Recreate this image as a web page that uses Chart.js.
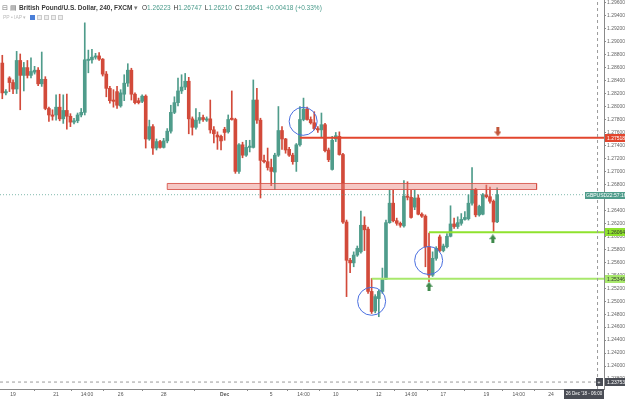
<!DOCTYPE html>
<html>
<head>
<meta charset="utf-8">
<script src="https://cdn.jsdelivr.net/npm/chart.js@4.4.1/dist/chart.umd.min.js"></script>
<style>
  html, body { margin: 0; padding: 0; background: #fff; }
  #wrap { position: relative; width: 625px; height: 399px; overflow: hidden; }
  #chart { position: absolute; left: 0; top: 0; }
  .hdr { position: absolute; left: 2px; top: 4px; font: 6.5px "Liberation Sans", Arial, sans-serif; color: #333; white-space: nowrap; }
  .hdr b { font-weight: bold; color: #3a3a3a; }
  .hdr .v { color: #4a9b8b; margin-right: 3px; }
  .hdr .k { color: #333; }
  .hdr .ic { color: #777; margin-right: 2px; }
  .sub { position: absolute; left: 3px; top: 14px; font: 5px "Liberation Sans", Arial, sans-serif; color: #bbb; white-space: nowrap; }
  .sub i { display: inline-block; width: 5px; height: 5px; margin-left: 2px; vertical-align: middle; border: 1px solid #ccc; background: #eee; box-sizing: border-box; }
  .sub i.on { background: #4a7fd8; border-color: #4a7fd8; }
</style>
</head>
<body>
<div id="wrap">
  <canvas id="chart" width="625" height="399"></canvas>
  <div class="hdr"><span class="ic">&#8863;</span><span class="ic">&#9636;</span><b>British Pound/U.S. Dollar, 240, FXCM</b> <span class="ic">&#9662;</span> <span class="k">O</span><span class="v">1.26223</span><span class="k">H</span><span class="v">1.26747</span><span class="k">L</span><span class="v">1.26210</span><span class="k">C</span><span class="v">1.26641</span><span class="v">+0.00418 (+0.33%)</span></div>
  <div class="sub">PP &#8226; IAP &#9662; <i class="on"></i><i></i><i></i><i></i><i></i></div>
</div>
<script>
// 240 min GBPUSD candles, bar 0 = Mon 19 Nov 00:00
const BAR_START = -3;
const OPEN = [1.2867,1.2821,1.2844,1.2837,1.2827,1.2871,1.2848,1.2860,1.2848,1.2853,
  1.2856,1.2835,1.2842,1.2797,1.2787,1.2787,1.2799,1.2781,1.2794,1.2785,
  1.2776,1.2778,1.2787,1.2791,1.2871,1.2872,1.2876,1.2878,1.2873,1.2850,
  1.2828,1.2810,1.2823,1.2801,1.2819,1.2836,1.2856,1.2819,1.2809,1.2808,
  1.2816,1.2750,1.2769,1.2736,1.2746,1.2737,1.2747,1.2762,1.2791,1.2806,
  1.2824,1.2830,1.2839,1.2781,1.2768,1.2779,1.2783,1.2779,1.2781,1.2764,
  1.2756,1.2754,1.2765,1.2761,1.2782,1.2780,1.2700,1.2741,1.2725,1.2737,
  1.2737,1.2810,1.2779,1.2717,1.2715,1.2706,1.2699,1.2725,1.2763,1.2750,
  1.2734,1.2725,1.2715,1.2741,1.2780,1.2796,1.2780,1.2775,1.2766,1.2764,
  1.2772,1.2733,1.2703,1.2750,1.2754,1.2726,1.2622,1.2563,1.2559,1.2571,
  1.2576,1.2617,1.2611,1.2515,1.2485,1.2504,1.2515,1.2534,1.2621,1.2651,
  1.2624,1.2620,1.2616,1.2662,1.2660,1.2645,1.2659,1.2634,1.2631,1.2584,
  1.2540,1.2566,1.2599,1.2578,1.2584,1.2600,1.2619,1.2615,1.2620,1.2626,
  1.2627,1.2651,1.2672,1.2633,1.2634,1.2664,1.2661,1.2654,1.26223];
const HIGH = [1.2879,1.2826,1.2846,1.2841,1.2885,1.2881,1.2868,1.2871,1.2875,1.2862,
  1.2860,1.2884,1.2846,1.2799,1.2795,1.2818,1.2819,1.2818,1.2819,1.2789,
  1.2782,1.2790,1.2797,1.2929,1.2887,1.2888,1.2882,1.2883,1.2874,1.2854,
  1.2831,1.2826,1.2831,1.2826,1.2849,1.2866,1.2859,1.2821,1.2813,1.2818,
  1.2818,1.2779,1.2772,1.2750,1.2748,1.2751,1.2766,1.2802,1.2815,1.2844,
  1.2849,1.2851,1.2845,1.2784,1.2797,1.2791,1.2787,1.2784,1.2810,1.2769,
  1.2761,1.2756,1.2768,1.2787,1.2824,1.2782,1.2743,1.2745,1.2748,1.2748,
  1.2841,1.2828,1.2782,1.2725,1.2736,1.2719,1.2728,1.2800,1.2769,1.2751,
  1.2737,1.2728,1.2743,1.2800,1.2813,1.2799,1.2784,1.2792,1.2769,1.2790,
  1.2774,1.2736,1.2754,1.2760,1.2761,1.2728,1.2625,1.2566,1.2576,1.2585,
  1.2639,1.2630,1.2614,1.2535,1.2510,1.2517,1.2551,1.2625,1.2671,1.2671,
  1.2628,1.2622,1.2686,1.2684,1.2671,1.2671,1.2664,1.2636,1.2633,1.2605,
  1.2576,1.2584,1.2602,1.2588,1.2604,1.2647,1.2628,1.2630,1.2635,1.2638,
  1.2664,1.2706,1.2674,1.2648,1.2666,1.2679,1.2676,1.2656,1.26747];
const LOW = [1.2812,1.2818,1.2823,1.2820,1.2820,1.2795,1.2824,1.2844,1.2844,1.2850,
  1.2832,1.2831,1.2795,1.2777,1.2779,1.2779,1.2778,1.2774,1.2765,1.2769,
  1.2773,1.2775,1.2784,1.2787,1.2852,1.2867,1.2873,1.2871,1.2847,1.2815,
  1.2805,1.2799,1.2797,1.2799,1.2809,1.2831,1.2810,1.2804,1.2804,1.2806,
  1.2736,1.2748,1.2726,1.2733,1.2736,1.2736,1.2744,1.2759,1.2789,1.2801,
  1.2820,1.2826,1.2758,1.2756,1.2765,1.2774,1.2777,1.2777,1.2759,1.2744,
  1.2734,1.2733,1.2748,1.2759,1.2779,1.2697,1.2697,1.2721,1.2723,1.2730,
  1.2736,1.2774,1.2659,1.2713,1.2702,1.2678,1.2672,1.2723,1.2734,1.2728,
  1.2723,1.2711,1.2700,1.2739,1.2778,1.2779,1.2773,1.2764,1.2760,1.2753,
  1.2730,1.2715,1.2702,1.2746,1.2725,1.2620,1.2507,1.2544,1.2553,1.2569,
  1.2574,1.2578,1.2512,1.2481,1.2482,1.2476,1.2512,1.2533,1.2620,1.2622,
  1.2617,1.2614,1.2614,1.2656,1.2628,1.2641,1.2633,1.2629,1.2553,1.2530,
  1.2538,1.2563,1.2576,1.2576,1.2582,1.2599,1.2612,1.2612,1.2617,1.2625,
  1.2625,1.2648,1.2630,1.2631,1.2633,1.2659,1.2651,1.2607,1.26210];
const CLOSE = [1.2821,1.2823,1.2837,1.2827,1.2871,1.2848,1.2860,1.2848,1.2854,1.2856,
  1.2835,1.2842,1.2797,1.2787,1.2785,1.2799,1.2781,1.2794,1.2785,1.2776,
  1.2778,1.2787,1.2791,1.2872,1.2873,1.2876,1.2878,1.2873,1.2850,1.2828,
  1.2809,1.2808,1.2802,1.2821,1.2836,1.2856,1.2819,1.2806,1.2806,1.2816,
  1.2750,1.2769,1.2736,1.2746,1.2737,1.2747,1.2762,1.2791,1.2806,1.2824,
  1.2830,1.2839,1.2781,1.2768,1.2779,1.2783,1.2780,1.2781,1.2764,1.2758,
  1.2753,1.2747,1.2760,1.2780,1.2780,1.2700,1.2741,1.2725,1.2737,1.2739,
  1.2810,1.2779,1.2717,1.2715,1.2706,1.2700,1.2725,1.2763,1.2750,1.2733,
  1.2725,1.2715,1.2741,1.2780,1.2796,1.2780,1.2775,1.2766,1.2764,1.2772,
  1.2732,1.2718,1.2748,1.2755,1.2726,1.2622,1.2563,1.2559,1.2571,1.25815,
  1.2617,1.2610,1.2515,1.2484,1.2507,1.2515,1.2534,1.2621,1.2651,1.2624,
  1.2620,1.2617,1.2662,1.2660,1.2629,1.2659,1.2634,1.2631,1.2584,1.2540,
  1.2566,1.25815,1.2578,1.2585,1.2600,1.2619,1.2615,1.2621,1.2626,1.2629,
  1.2651,1.2672,1.2633,1.2646,1.2664,1.2661,1.2654,1.2622,1.26641];

const TIME_TICKS = [0, 12, 20.6, 30, 42, 59, 72, 81, 90, 102, 111, 120, 132, 141, 150];
const TIME_LABELS = ['19', '21', '14:00', '26', '28', 'Dec', '5', '14:00', '10', '12', '14:00', '17', '19', '14:00', '24'];

// drawings
const RESISTANCE = 1.27518, RESISTANCE_FROM = 80;
const SUPPORT_HI = 1.26064, SUPPORT_HI_FROM = 116;
const SUPPORT_LO = 1.25346, SUPPORT_LO_FROM = 100;
const ZONE_LOW = 1.26721, ZONE_HIGH = 1.26814, ZONE_FROM = 43, ZONE_TO = 146;
const CIRCLES = [{x: 80.9, y: 1.27772}, {x: 115.9, y: 1.25627}, {x: 100, y: 1.24998}];
const DOWN_ARROWS = [{x: 135.2, y: 1.27608}];
const UP_ARROWS = [{x: 116, y: 1.25229}, {x: 133.8, y: 1.25962}];
const LAST_PRICE = 1.26641;
const CROSS_PRICE = 1.23753, CROSS_BAR = 163;

const X_MIN = -3.64, X_MAX = 164.8;
const Y_MIN = 1.23646, Y_MAX = 1.29642;

const UP = '#4f9c8b', DOWN = '#d24a3a';
const BAR_INDEX = OPEN.map((_, k) => BAR_START + k);
const candleColor = OPEN.map((o, k) => CLOSE[k] >= o ? UP : DOWN);

function arrow(color, down) {
  const c = document.createElement('canvas');
  c.width = 7; c.height = 9;
  const g = c.getContext('2d');
  g.fillStyle = color;
  g.beginPath();
  if (down) {
    g.moveTo(2, 0); g.lineTo(5, 0); g.lineTo(5, 4); g.lineTo(7, 4);
    g.lineTo(3.5, 9); g.lineTo(0, 4); g.lineTo(2, 4);
  } else {
    g.moveTo(3.5, 0); g.lineTo(7, 5); g.lineTo(5, 5); g.lineTo(5, 9);
    g.lineTo(2, 9); g.lineTo(2, 5); g.lineTo(0, 5);
  }
  g.closePath();
  g.fill();
  return c;
}

function hline(value, from, color, width, dash) {
  return {
    type: 'line', order: 0,
    data: [{x: from, y: value}, {x: X_MAX, y: value}],
    borderColor: color, borderWidth: width, borderDash: dash || [],
    pointRadius: 0, fill: false
  };
}

const labels = {
  id: 'labels',
  afterDraw(chart) {
    const {ctx, chartArea, scales: {y}} = chart;
    const r = chartArea.right;
    ctx.save();
    ctx.font = '5px "Liberation Sans", Arial, sans-serif';
    ctx.textBaseline = 'middle';
    const badge = (value, bg, fg) => {
      const py = Math.round(y.getPixelForValue(value));
      ctx.fillStyle = bg;
      ctx.fillRect(r + 1, py - 4, 21, 8);
      ctx.fillStyle = fg;
      ctx.fillText(value.toFixed(5), r + 3, py + 0.5);
    };
    badge(RESISTANCE, '#e2462e', '#fff');
    badge(SUPPORT_HI, '#8fe22e', '#333');
    badge(SUPPORT_LO, '#a8e86c', '#333');
    badge(CROSS_PRICE, '#4a4d55', '#fff');

    // last price tag
    const lp = Math.round(y.getPixelForValue(LAST_PRICE));
    ctx.fillStyle = '#4f9c8b';
    ctx.fillRect(r - 19, lp - 3, 40, 7);
    ctx.fillStyle = '#fff';
    ctx.fillText('GBPUSD', r - 18, lp + 0.5);
    ctx.fillText('22:57:16', r + 3, lp + 0.5);

    // crosshair tags
    const cy = Math.round(y.getPixelForValue(CROSS_PRICE));
    ctx.fillStyle = '#4a4d55';
    ctx.fillRect(r - 8, cy - 4, 7, 8);
    ctx.fillStyle = '#fff';
    ctx.fillText('+', r - 6.5, cy + 0.5);
    ctx.fillStyle = '#4a4d55';
    ctx.fillRect(r - 40, chartArea.bottom, 40, 10);
    ctx.fillStyle = '#fff';
    ctx.font = '4.5px "Liberation Sans", Arial, sans-serif';
    ctx.textAlign = 'center';
    ctx.fillText("26 Dec '18 - 06:00", r - 20, chartArea.bottom + 5);
    ctx.restore();
  }
};

new Chart(document.getElementById('chart'), {
  type: 'bar',
  data: {
    datasets: [
      {
        label: 'body', order: 1, grouped: false,
        data: BAR_INDEX.map((b, k) => ({x: b, y: [OPEN[k], CLOSE[k]]})),
        backgroundColor: candleColor, barThickness: 3, minBarLength: 1, borderWidth: 0
      },
      {
        label: 'wick', order: 2, grouped: false,
        data: BAR_INDEX.map((b, k) => ({x: b, y: [LOW[k], HIGH[k]]})),
        backgroundColor: candleColor, barThickness: 1, borderWidth: 0
      },
      hline(LAST_PRICE, X_MIN, 'rgba(79,156,139,0.7)', 1, [1, 2]),
      hline(CROSS_PRICE, X_MIN, '#9a9a9a', 1, [3, 3]),
      {
        type: 'line', order: 0,
        data: [{x: CROSS_BAR, y: Y_MIN}, {x: CROSS_BAR, y: Y_MAX}],
        borderColor: '#9a9a9a', borderWidth: 1, borderDash: [3, 3], pointRadius: 0
      },
      {
        type: 'line', order: 0,
        data: [{x: ZONE_FROM, y: ZONE_HIGH}, {x: ZONE_TO, y: ZONE_HIGH}, {x: ZONE_TO, y: ZONE_LOW},
               {x: ZONE_FROM, y: ZONE_LOW}, {x: ZONE_FROM, y: ZONE_HIGH}],
        borderColor: 'rgba(214,80,70,0.85)', borderWidth: 1,
        backgroundColor: 'rgba(232,130,125,0.45)', fill: 'shape', pointRadius: 0, tension: 0
      },
      hline(RESISTANCE, RESISTANCE_FROM, '#e2462e', 2),
      hline(SUPPORT_HI, SUPPORT_HI_FROM, '#8fe22e', 2),
      hline(SUPPORT_LO, SUPPORT_LO_FROM, '#a8e86c', 2),
      {
        type: 'bubble', order: 0,
        data: CIRCLES.map(c => ({x: c.x, y: c.y, r: 14})),
        backgroundColor: 'rgba(0,0,0,0)', borderColor: '#4a6fe0', borderWidth: 1
      },
      {
        type: 'scatter', order: 0, data: DOWN_ARROWS,
        pointStyle: arrow('#c2563a', true), pointRadius: 4
      },
      {
        type: 'scatter', order: 0, data: UP_ARROWS,
        pointStyle: arrow('#3f8a4c', false), pointRadius: 4
      }
    ]
  },
  options: {
    responsive: false,
    animation: false,
    events: [],
    layout: { padding: 0, autoPadding: false },
    plugins: { legend: { display: false }, tooltip: { enabled: false } },
    scales: {
      x: {
        type: 'linear', offset: false, min: X_MIN, max: X_MAX,
        grid: { display: true, drawOnChartArea: false, tickLength: 2, color: '#8a8a8a' },
        border: { color: '#8a8a8a' },
        afterBuildTicks: s => { s.ticks = TIME_TICKS.map(v => ({value: v})); },
        afterFit: s => { s.height = 10; s.paddingLeft = 0; s.paddingRight = 0; },
        ticks: {
          autoSkip: false, maxRotation: 0, padding: 1, color: '#555',
          font: c => ({ size: 5, family: '"Liberation Sans", Arial, sans-serif',
                        weight: c.tick && c.tick.value === 59 ? 'bold' : 'normal' }),
          callback: v => TIME_LABELS[TIME_TICKS.indexOf(v)]
        }
      },
      y: {
        position: 'right', min: Y_MIN, max: Y_MAX,
        grid: { display: true, drawOnChartArea: false, tickLength: 2, color: '#8a8a8a' },
        border: { color: '#8a8a8a' },
        afterFit: s => { s.width = 21; s.paddingTop = 0; s.paddingBottom = 0; },
        ticks: {
          stepSize: 0.002, includeBounds: false, padding: 1, color: '#666',
          font: { size: 5, family: '"Liberation Sans", Arial, sans-serif' },
          callback: v => v.toFixed(5)
        }
      }
    }
  },
  plugins: [labels]
});
</script>
</body>
</html>
